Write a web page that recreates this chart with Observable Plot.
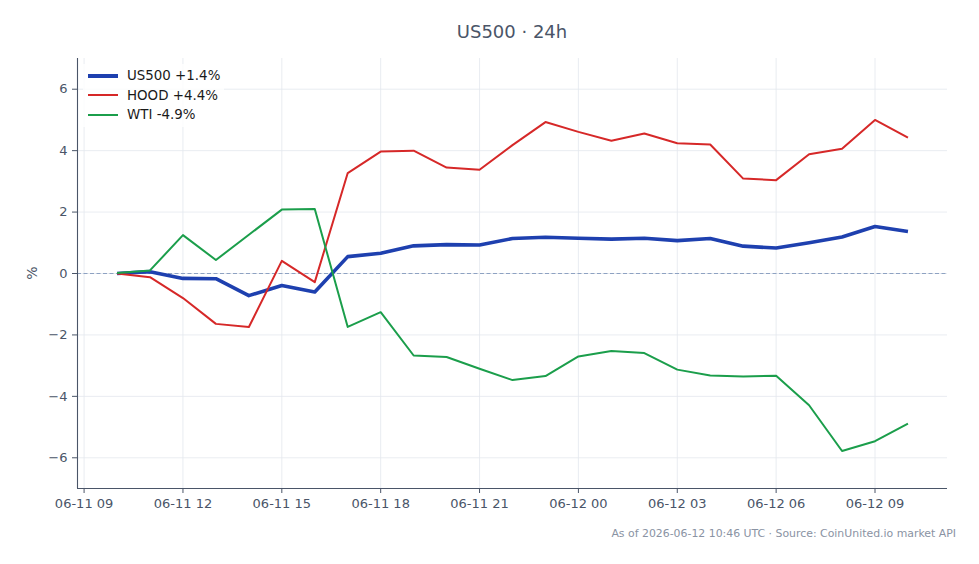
<!DOCTYPE html>
<html>
<head>
<meta charset="utf-8">
<script src="https://cdn.jsdelivr.net/npm/d3@7"></script>
<script src="https://cdn.jsdelivr.net/npm/@observablehq/plot@0.6"></script>
<style>
  html, body { margin: 0; padding: 0; background: #fff; }
  #wrap { position: relative; width: 979px; height: 564px; font-family: "DejaVu Sans", sans-serif; }
  #title { position: absolute; left: 77px; width: 870px; top: 21px; text-align: center; font-size: 18px; color: #4a5568; line-height: 22px; }
  #caption { position: absolute; right: 23px; top: 527px; font-size: 10.9px; color: #8a93a3; line-height: 14px; white-space: nowrap; }
  #ylab { position: absolute; left: 23px; top: 264px; width: 18px; height: 18px; font-size: 14px; color: #4a5568; transform: rotate(-90deg); text-align: center; line-height: 18px; }
  #legend { position: absolute; left: 83px; top: 64px; background: rgba(255,255,255,0.8); padding: 2px 4px; }
  .item { display: flex; align-items: center; height: 19.5px; font-size: 13.4px; color: #1a1a1a; }
  .sw { width: 30px; margin-right: 9px; margin-left: 1px; }
  svg { position: absolute; left: 0; top: 0; }
</style>
</head>
<body>
<div id="wrap">
  <div id="chart"></div>
  <div id="title">US500 · 24h</div>
  <div id="ylab">%</div>
  <div id="legend"></div>
  <div id="caption">As of 2026-06-12 10:46 UTC · Source: CoinUnited.io market API</div>
</div>
<script>
const times = [
  "2026-06-11T10:00Z","2026-06-11T11:00Z","2026-06-11T12:00Z","2026-06-11T13:00Z","2026-06-11T14:00Z",
  "2026-06-11T15:00Z","2026-06-11T16:00Z","2026-06-11T17:00Z","2026-06-11T18:00Z","2026-06-11T19:00Z",
  "2026-06-11T20:00Z","2026-06-11T21:00Z","2026-06-11T22:00Z","2026-06-11T23:00Z","2026-06-12T00:00Z",
  "2026-06-12T01:00Z","2026-06-12T02:00Z","2026-06-12T03:00Z","2026-06-12T04:00Z","2026-06-12T05:00Z",
  "2026-06-12T06:00Z","2026-06-12T07:00Z","2026-06-12T08:00Z","2026-06-12T09:00Z","2026-06-12T10:00Z"
];
const us500 = [0, 0.06, -0.16, -0.17, -0.72, -0.39, -0.60, 0.55, 0.66, 0.90, 0.94, 0.93, 1.14, 1.18, 1.15, 1.12, 1.15, 1.07, 1.14, 0.89, 0.83, 1.00, 1.19, 1.53, 1.37];
const hood  = [0, -0.12, -0.80, -1.64, -1.74, 0.41, -0.28, 3.27, 3.97, 4.00, 3.45, 3.38, 4.18, 4.93, 4.61, 4.32, 4.56, 4.24, 4.20, 3.09, 3.04, 3.88, 4.06, 5.00, 4.42];
const wti   = [0.02, 0.10, 1.25, 0.44, 1.26, 2.08, 2.10, -1.74, -1.26, -2.67, -2.72, -3.10, -3.47, -3.34, -2.70, -2.52, -2.59, -3.13, -3.32, -3.35, -3.33, -4.29, -5.78, -5.46, -4.89];

const seriesNames = ["US500 +1.4%", "HOOD +4.4%", "WTI -4.9%"];
const seriesColors = ["#1e40af", "#d62828", "#1b9e4b"];
const seriesWidths = [3.6, 2, 2];
const seriesValues = [us500, hood, wti];

const xDomain = [new Date("2026-06-11T08:48Z"), new Date("2026-06-12T11:12Z")];
const xTicks = ["2026-06-11T09:00Z","2026-06-11T12:00Z","2026-06-11T15:00Z","2026-06-11T18:00Z","2026-06-11T21:00Z",
                "2026-06-12T00:00Z","2026-06-12T03:00Z","2026-06-12T06:00Z","2026-06-12T09:00Z"].map(d => new Date(d));
const yTicks = [-6, -4, -2, 0, 2, 4, 6];
const yDomain = [-7, 7];

const rows = [];
seriesNames.forEach((name, k) => {
  times.forEach((t, i) => rows.push({series: name, k, date: new Date(t), value: seriesValues[k][i]}));
});

const axisColor = "#4a5568";
const fmt = d3.utcFormat("%m-%d %H");

const lineMarks = seriesNames.map((name, k) =>
  Plot.line(rows.filter(r => r.k === k), {
    x: "date", y: "value", stroke: seriesColors[k], strokeWidth: seriesWidths[k],
    strokeLinejoin: "round", strokeLinecap: "butt"
  })
);

const chart = Plot.plot({
  width: 979,
  height: 564,
  marginLeft: 77,
  marginRight: 32,
  marginTop: 58,
  marginBottom: 76,
  style: {fontFamily: "DejaVu Sans, sans-serif", fontSize: "13px", background: "transparent", color: axisColor},
  x: {type: "utc", domain: xDomain},
  y: {domain: yDomain},
  marks: [
    Plot.gridX(xTicks, {stroke: "#e3e7ee", strokeOpacity: 1, strokeWidth: 0.8}),
    Plot.gridY(yTicks, {stroke: "#e3e7ee", strokeOpacity: 1, strokeWidth: 0.8}),
    Plot.ruleY([0], {stroke: "#8ea2c2", strokeWidth: 1.1, strokeDasharray: "4,2.5"}),
    ...lineMarks,
    Plot.ruleX([xDomain[0]], {stroke: axisColor, strokeWidth: 1.1}),
    Plot.ruleY([yDomain[0]], {stroke: axisColor, strokeWidth: 1.1}),
    Plot.axisX(xTicks, {tickSize: 5, tickPadding: 5, tickFormat: fmt, label: null, stroke: axisColor, fill: axisColor, fontSize: 13}),
    Plot.axisY(yTicks, {tickSize: 5, tickPadding: 5, tickFormat: d => d < 0 ? "\u2212" + Math.abs(d) : String(d), label: null, stroke: axisColor, fill: axisColor, fontSize: 13})
  ]
});
document.getElementById("chart").appendChild(chart);

const legend = document.getElementById("legend");
seriesNames.forEach((name, k) => {
  const item = document.createElement("div");
  item.className = "item";
  const sw = document.createElement("span");
  sw.className = "sw";
  sw.style.height = seriesWidths[k] + "px";
  sw.style.background = seriesColors[k];
  item.appendChild(sw);
  const tx = document.createElement("span");
  tx.textContent = name;
  item.appendChild(tx);
  legend.appendChild(item);
});
</script>
</body>
</html>
